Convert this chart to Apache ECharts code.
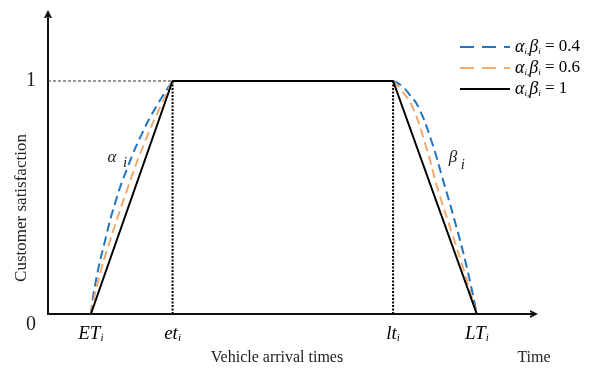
<!DOCTYPE html>
<html>
<head>
<meta charset="utf-8">
<script src="https://cdn.jsdelivr.net/npm/echarts@6/dist/echarts.min.js"></script>
<style>html,body{margin:0;padding:0;background:#fff}#main{width:592px;height:369px}</style>
</head>
<body>
<div id="main"></div>
<script>
// time points on the horizontal axis (ET, et, lt, LT)
var timePoints = [2.1, 6.1, 16.9, 21.0];
var timeLabels = ['ET', 'et', 'lt', 'LT'];
var yTicks = [0, 1];
var yTickLabels = ['0', '1'];
var legendNames = ['0.4', '0.6', '1'];

// alpha,beta = 0.4 (null = gap between left and right ramp)
var blueX = [2.1, 2.34, 2.78, 3.3, 3.9, 4.58, 5.3, 6.1, null, 16.9, 17.31, 17.72, 18.13, 18.75, 19.36, 19.98, 20.51, 21.0];
var blueY = [0, 0.14, 0.31, 0.48, 0.63, 0.77, 0.89, 1, null, 1, 0.98, 0.94, 0.89, 0.75, 0.57, 0.38, 0.2, 0];
// alpha,beta = 0.6
var orangeX = [2.1, 2.42, 3.02, 3.9, 4.7, 5.5, 6.1, null, 16.9, 17.31, 17.84, 18.54, 19.11, 19.77, 20.39, 21.0];
var orangeY = [0, 0.13, 0.31, 0.54, 0.73, 0.89, 1, null, 1, 0.96, 0.89, 0.71, 0.53, 0.35, 0.18, 0];
// alpha,beta = 1
var blackX = [2.1, 6.1, 16.9, 21.0];
var blackY = [0, 1, 1, 0];

// curve annotations (data coords)
var annoText = ['α', 'i', 'β', 'i'];
var annoX = [3.13, 3.77, 19.83, 20.32];
var annoY = [0.67, 0.648, 0.67, 0.64];

var SERIF = '"Liberation Serif", "Times New Roman", serif';

function zip(xs, ys) {
    var out = [];
    for (var i = 0; i < xs.length; i++) {
        if (xs[i] === null) out.push(['-', '-']);
        else out.push([xs[i], ys[i]]);
    }
    return out;
}

var chart = echarts.init(document.getElementById('main'));

// open arrow head
var arrowPath = 'path://M0,10 L5,0 L10,10 L7.4,10 L5,5.6 L2.6,10 Z';
var axisArrow = { symbol: ['none', arrowPath], symbolSize: [12, 8], symbolOffset: [0, 0] };

var option = {
    animation: false,
    textStyle: { fontFamily: SERIF, color: '#000' },
    grid: { left: 48, right: 58, top: 14, bottom: 55 },
    legend: {
        orient: 'vertical',
        left: 454,
        top: 33,
        itemWidth: 50,
        itemHeight: 14,
        itemGap: 3,
        itemStyle: { opacity: 0 },
        data: [
            { name: '0.4', lineStyle: { type: [14, 8] } },
            { name: '0.6', lineStyle: { type: [14, 8] } },
            { name: '1' }
        ],
        formatter: function (name) {
            return '{g|α}{s|i,}{g|β}{s|i}{t| = ' + name + '}';
        },
        textStyle: {
            rich: {
                g: { fontFamily: SERIF, fontStyle: 'italic', fontSize: 18, color: '#000', lineHeight: 18 },
                s: { fontFamily: SERIF, fontStyle: 'italic', fontSize: 9, color: '#000', lineHeight: 9, verticalAlign: 'bottom' },
                t: { fontFamily: SERIF, fontSize: 17, color: '#000', lineHeight: 18 }
            }
        }
    },
    xAxis: {
        type: 'value',
        min: 0,
        max: 23.8,
        axisLine: Object.assign({ show: true, onZero: false, lineStyle: { color: '#111', width: 2 } }, axisArrow),
        axisTick: { show: false },
        splitLine: { show: false },
        axisLabel: {
            customValues: timePoints,
            margin: 10,
            formatter: function (v) {
                var idx = timePoints.indexOf(v);
                if (idx < 0) return '';
                return '{m|' + timeLabels[idx] + '}{s|i}';
            },
            rich: {
                m: { fontFamily: SERIF, fontStyle: 'italic', fontSize: 19, color: '#000', lineHeight: 20 },
                s: { fontFamily: SERIF, fontStyle: 'italic', fontSize: 11, color: '#000', lineHeight: 11, verticalAlign: 'bottom' }
            }
        }
    },
    yAxis: {
        type: 'value',
        min: 0,
        max: 1.2876,
        axisLine: Object.assign({ show: true, onZero: false, lineStyle: { color: '#111', width: 2 } }, axisArrow),
        axisTick: { show: false },
        splitLine: { show: false },
        axisLabel: {
            customValues: yTicks,
            margin: 12,
            formatter: function (v) {
                var idx = yTicks.indexOf(v);
                if (idx < 0) return '';
                return v === 0 ? '{z|' + yTickLabels[idx] + '}' : '{o|' + yTickLabels[idx] + '}';
            },
            rich: {
                z: { fontFamily: SERIF, fontSize: 20, color: '#222', padding: [22, 0, 0, 0] },
                o: { fontFamily: SERIF, fontSize: 20, color: '#222' }
            }
        }
    },
    series: [
        {
            name: 'guideH', type: 'line', symbol: 'none', silent: true,
            data: [[0, 1], [timePoints[1], 1]],
            lineStyle: { color: '#333', width: 1, type: [3, 2] }
        },
        {
            name: 'guideV', type: 'line', symbol: 'none', silent: true,
            data: [[timePoints[1], 0], [timePoints[1], 1], ['-', '-'], [timePoints[2], 0], [timePoints[2], 1]],
            lineStyle: { color: '#000', width: 2, type: [2, 1.5] }
        },
        {
            name: '0.4', type: 'line', symbol: 'none', smooth: 0.5,
            data: zip(blueX, blueY),
            lineStyle: { color: '#1f74c4', width: 2, type: [9, 5] },
            itemStyle: { color: '#1f74c4' }
        },
        {
            name: '0.6', type: 'line', symbol: 'none', smooth: 0.5,
            data: zip(orangeX, orangeY),
            lineStyle: { color: '#f4a96c', width: 2, type: [9, 5] },
            itemStyle: { color: '#f4a96c' }
        },
        {
            name: '1', type: 'line', symbol: 'none',
            data: zip(blackX, blackY),
            lineStyle: { color: '#000', width: 2 },
            itemStyle: { color: '#000' }
        }
    ]
};
chart.setOption(option);

// titles and curve annotations
var graphics = [
    { type: 'text', x: 22, y: 208, rotation: Math.PI / 2,
      style: { text: 'Customer satisfaction', font: '17px ' + SERIF, fill: '#222', align: 'center', verticalAlign: 'middle' } },
    { type: 'text', x: 277, y: 358,
      style: { text: 'Vehicle arrival times', font: '16px ' + SERIF, fill: '#222', align: 'center', verticalAlign: 'middle' } },
    { type: 'text', x: 534, y: 358,
      style: { text: 'Time', font: '16px ' + SERIF, fill: '#222', align: 'center', verticalAlign: 'middle' } }
];
for (var i = 0; i < annoText.length; i++) {
    var p = chart.convertToPixel({ gridIndex: 0 }, [annoX[i], annoY[i]]);
    graphics.push({ type: 'text', x: p[0], y: p[1],
        style: { text: annoText[i], font: 'italic ' + (annoText[i] === 'i' ? 15 : 17) + 'px ' + SERIF, fill: '#222', align: 'center', verticalAlign: 'middle' } });
}
chart.setOption({ graphic: graphics });
</script>
</body>
</html>
